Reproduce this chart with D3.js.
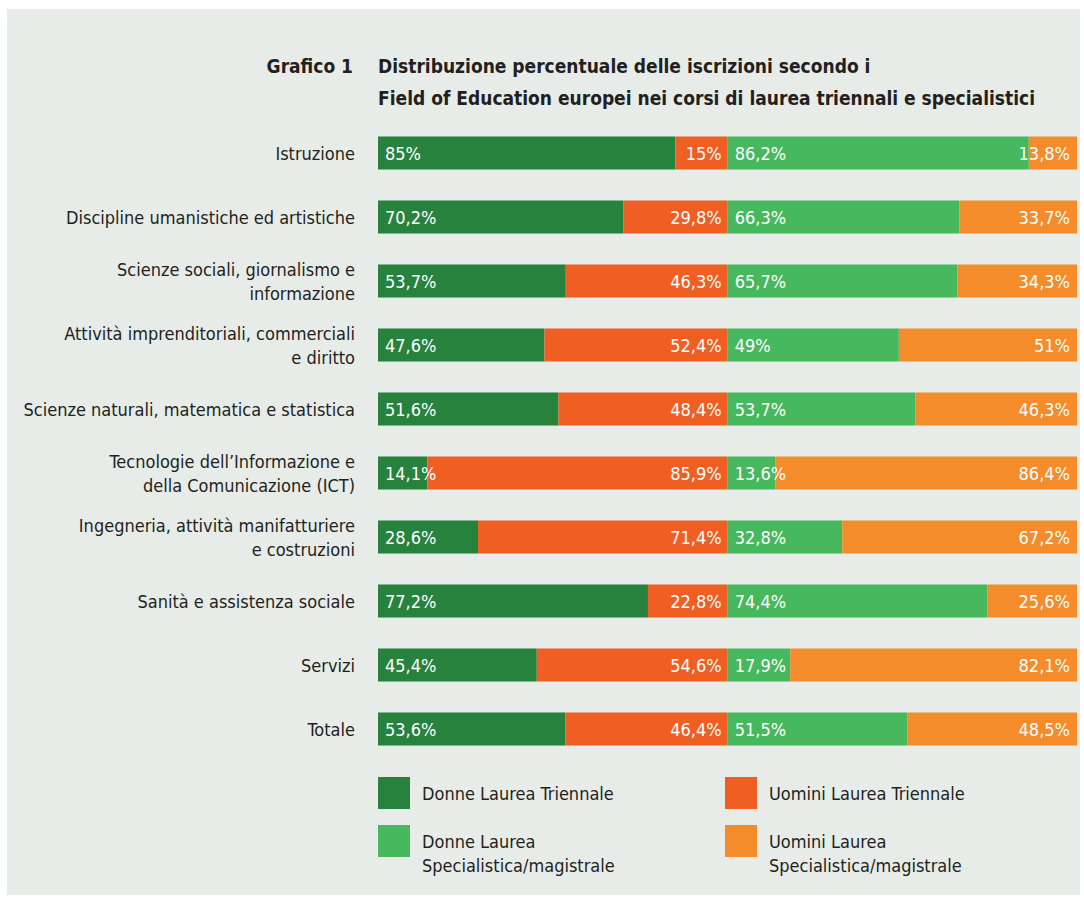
<!DOCTYPE html>
<html><head><meta charset="utf-8">
<script src="https://cdn.jsdelivr.net/npm/d3@7"></script>
<style>
html,body{margin:0;padding:0;background:#fff;}
svg text{font-family:"Liberation Sans Narrow","DejaVu Sans Condensed","Roboto",sans-serif;}
</style></head>
<body>
<svg id="c" width="1084" height="897"></svg>
<script>
const categories = [
  "Istruzione",
  "Discipline umanistiche ed artistiche",
  "Scienze sociali, giornalismo e\ninformazione",
  "Attività imprenditoriali, commerciali\ne diritto",
  "Scienze naturali, matematica e statistica",
  "Tecnologie dell’Informazione e\ndella Comunicazione (ICT)",
  "Ingegneria, attività manifatturiere\ne costruzioni",
  "Sanità e assistenza sociale",
  "Servizi",
  "Totale"
];
const donneTriennale = [85, 70.2, 53.7, 47.6, 51.6, 14.1, 28.6, 77.2, 45.4, 53.6];
const uominiTriennale = [15, 29.8, 46.3, 52.4, 48.4, 85.9, 71.4, 22.8, 54.6, 46.4];
const donneSpecialistica = [86.2, 66.3, 65.7, 49, 53.7, 13.6, 32.8, 74.4, 17.9, 51.5];
const uominiSpecialistica = [13.8, 33.7, 34.3, 51, 46.3, 86.4, 67.2, 25.6, 82.1, 48.5];
const seriesNames = ["Donne Laurea Triennale", "Uomini Laurea Triennale", "Donne Laurea\nSpecialistica/magistrale", "Uomini Laurea\nSpecialistica/magistrale"];
const colors = ["#27823e", "#ef5f24", "#48b85f", "#f58c2b"];
const titleLines = ["Distribuzione percentuale delle iscrizioni secondo i", "Field of Education europei nei corsi di laurea triennali e specialistici"];
const titleLabel = "Grafico 1";

const svg = d3.select("#c");
svg.append("rect").attr("x",7).attr("y",9).attr("width",1073).attr("height",886).attr("fill","#e7ece8");

const textColor = "#231f20";
const y = d3.scaleBand().domain(categories).range([121, 761]).paddingInner(0.484).paddingOuter(0.242);
const xL = d3.scaleLinear().domain([0,100]).range([378, 727.7]);
const xR = d3.scaleLinear().domain([0,100]).range([727.7, 1077]);
const fmt = v => String(v).replace(".", ",") + "%";

// title
svg.append("text").attr("x",353).attr("y",73).attr("text-anchor","end")
  .attr("font-size",19).attr("font-weight","bold").attr("fill",textColor).text(titleLabel);
titleLines.forEach((t,i)=>{
  svg.append("text").attr("x",378).attr("y",73+32*i)
    .attr("font-size",19).attr("font-weight","bold").attr("fill",textColor).text(t);
});

// category labels
categories.forEach(c=>{
  const lines = c.split("\n");
  const cy = y(c) + y.bandwidth()/2;
  const t = svg.append("text").attr("text-anchor","end").attr("font-size",18).attr("fill",textColor);
  lines.forEach((l,i)=>{
    t.append("tspan").attr("x",355).attr("y", cy + 6.5 + (i - (lines.length-1)/2)*24).text(l);
  });
});

const rows = categories.map((c,i)=>({c, a:donneTriennale[i], b:uominiTriennale[i], d:donneSpecialistica[i], e:uominiSpecialistica[i]}));
const g = svg.append("g");
rows.forEach(r=>{
  const top = y(r.c), h = y.bandwidth(), cy = top + h/2 + 6.5;
  g.append("rect").attr("x",xL(0)).attr("y",top).attr("width",xL(r.a)-xL(0)).attr("height",h).attr("fill",colors[0]);
  g.append("rect").attr("x",xL(r.a)).attr("y",top).attr("width",xL(100)-xL(r.a)).attr("height",h).attr("fill",colors[1]);
  g.append("rect").attr("x",xR(0)).attr("y",top).attr("width",xR(r.d)-xR(0)).attr("height",h).attr("fill",colors[2]);
  g.append("rect").attr("x",xR(r.d)).attr("y",top).attr("width",xR(100)-xR(r.d)).attr("height",h).attr("fill",colors[3]);
  const lab = (x,anchor,v)=>g.append("text").attr("x",x).attr("y",cy).attr("text-anchor",anchor)
     .attr("font-size",18).attr("fill","#fff").text(fmt(v));
  lab(xL(0)+7,"start",r.a);
  lab(xL(100)-6,"end",r.b);
  lab(xR(0)+7,"start",r.d);
  lab(xR(100)-7,"end",r.e);
});

// legend
const legPos = [[378,777],[725,777],[378,825],[725,825]];
seriesNames.forEach((n,i)=>{
  const [lx,ly] = legPos[i];
  svg.append("rect").attr("x",lx).attr("y",ly).attr("width",32).attr("height",32).attr("fill",colors[i]);
  const t = svg.append("text").attr("font-size",18).attr("fill",textColor);
  n.split("\n").forEach((l,j)=>{
    t.append("tspan").attr("x",lx+44).attr("y",ly+23+24*j).text(l);
  });
});
</script>
</body></html>
